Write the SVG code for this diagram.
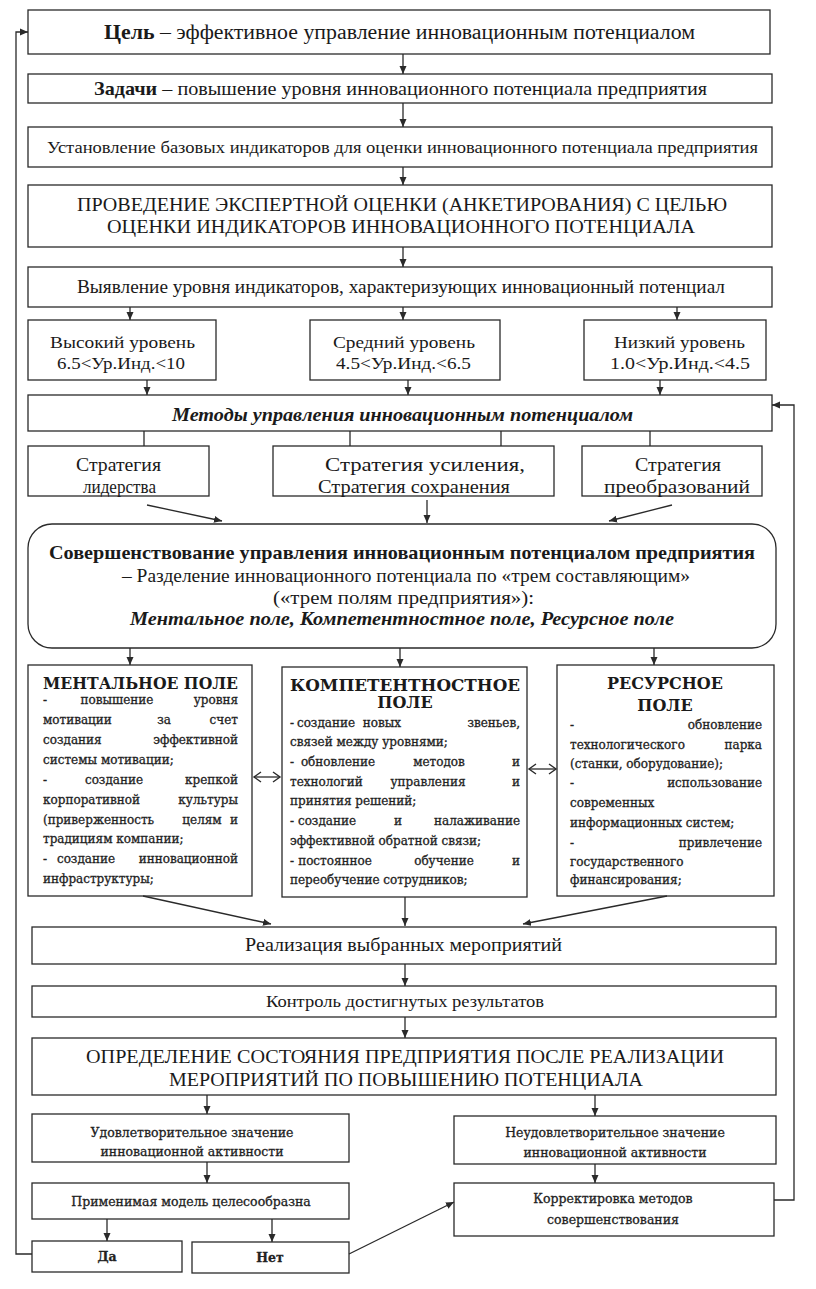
<svg xmlns="http://www.w3.org/2000/svg" width="816" height="1289" viewBox="0 0 816 1289">
<style>
.b{fill:#fff;stroke:#2a2a2a;stroke-width:1.3}
.t{font-family:"Liberation Serif","Times New Roman",serif;fill:#1a1a1a}
.d{font-family:"DejaVu Serif",serif;font-size:12px;fill:#222;stroke:#222;stroke-width:0.3}
.e{font-family:"DejaVu Serif",serif;font-size:12.5px;fill:#222;stroke:#222;stroke-width:0.3}
.h{font-family:"DejaVu Serif",serif;font-size:16px;font-weight:bold;fill:#1a1a1a}
.m{text-anchor:middle}
.r{text-anchor:end}
.c line,.c polyline{stroke:#2a2a2a;stroke-width:1.3;fill:none}
</style>
<defs>
<marker id="a" markerUnits="userSpaceOnUse" markerWidth="8" markerHeight="8" refX="8" refY="4" orient="auto"><path d="M0,0.5 L8,4 L0,7.5 z" fill="#2a2a2a"/></marker>
<marker id="o" markerUnits="userSpaceOnUse" markerWidth="10" markerHeight="12" refX="8" refY="6" orient="auto-start-reverse"><path d="M1,1 L8,6 L1,11" fill="none" stroke="#2a2a2a" stroke-width="1.4"/></marker>
</defs>
<rect width="816" height="1289" fill="#fff"/>

<g id="goal"><rect class="b" x="28" y="10" width="742" height="44"/>
<text class="t" x="104" y="39" font-size="20" textLength="591" lengthAdjust="spacingAndGlyphs"><tspan font-weight="bold">Цель</tspan> – эффективное управление инновационным потенциалом</text></g>

<g id="tasks"><rect class="b" x="28" y="74" width="744" height="29"/>
<text class="t" x="94" y="95" font-size="19" textLength="613" lengthAdjust="spacingAndGlyphs"><tspan font-weight="bold">Задачи</tspan> – повышение уровня инновационного потенциала предприятия</text></g>

<g id="indicators"><rect class="b" x="28" y="127" width="744" height="40"/>
<text class="t" x="47" y="153" font-size="17" textLength="711" lengthAdjust="spacingAndGlyphs">Установление базовых индикаторов для оценки инновационного потенциала предприятия</text></g>

<g id="expert"><rect class="b" x="28" y="185" width="744" height="62"/>
<text class="t" x="77" y="211" font-size="19" textLength="650" lengthAdjust="spacingAndGlyphs">ПРОВЕДЕНИЕ ЭКСПЕРТНОЙ ОЦЕНКИ (АНКЕТИРОВАНИЯ) С ЦЕЛЬЮ</text>
<text class="t" x="107" y="233" font-size="19" textLength="588" lengthAdjust="spacingAndGlyphs">ОЦЕНКИ ИНДИКАТОРОВ ИННОВАЦИОННОГО ПОТЕНЦИАЛА</text></g>

<g id="reveal"><rect class="b" x="28" y="267" width="744" height="40"/>
<text class="t" x="77" y="293" font-size="18" textLength="648" lengthAdjust="spacingAndGlyphs">Выявление уровня индикаторов, характеризующих инновационный потенциал</text></g>

<g id="high"><rect class="b" x="28" y="320" width="188" height="60"/>
<text class="t" x="50" y="348" font-size="17" textLength="145" lengthAdjust="spacingAndGlyphs">Высокий уровень</text>
<text class="t" x="57" y="369" font-size="17" textLength="128" lengthAdjust="spacingAndGlyphs">6.5&lt;Ур.Инд.&lt;10</text></g>

<g id="mid"><rect class="b" x="310" y="320" width="190" height="60"/>
<text class="t" x="333" y="348" font-size="17" textLength="142" lengthAdjust="spacingAndGlyphs">Средний уровень</text>
<text class="t" x="336" y="369" font-size="17" textLength="135" lengthAdjust="spacingAndGlyphs">4.5&lt;Ур.Инд.&lt;6.5</text></g>

<g id="low"><rect class="b" x="584" y="320" width="182" height="60"/>
<text class="t" x="614" y="348" font-size="17" textLength="131" lengthAdjust="spacingAndGlyphs">Низкий уровень</text>
<text class="t" x="610" y="369" font-size="17" textLength="140" lengthAdjust="spacingAndGlyphs">1.0&lt;Ур.Инд.&lt;4.5</text></g>

<g id="methods"><rect class="b" x="28" y="395" width="744" height="36"/>
<text class="t" x="172" y="421" font-size="18" font-weight="bold" font-style="italic" textLength="461" lengthAdjust="spacingAndGlyphs">Методы управления инновационным потенциалом</text></g>

<g id="s1"><rect class="b" x="28" y="446" width="181" height="50"/>
<text class="t" x="76" y="471" font-size="18" textLength="85" lengthAdjust="spacingAndGlyphs">Стратегия</text>
<text class="t" x="83" y="493" font-size="18" textLength="73" lengthAdjust="spacingAndGlyphs">лидерства</text></g>

<g id="s2"><rect class="b" x="273" y="446" width="281" height="50"/>
<text class="t" x="325" y="471" font-size="18" textLength="200" lengthAdjust="spacingAndGlyphs">Стратегия усиления,</text>
<text class="t" x="318" y="493" font-size="18" textLength="192" lengthAdjust="spacingAndGlyphs">Стратегия сохранения</text></g>

<g id="s3"><rect class="b" x="582" y="446" width="180" height="50"/>
<text class="t" x="635" y="471" font-size="18" textLength="86" lengthAdjust="spacingAndGlyphs">Стратегия</text>
<text class="t" x="604" y="493" font-size="18" textLength="146" lengthAdjust="spacingAndGlyphs">преобразований</text></g>

<g id="improve"><rect class="b" x="28" y="524" width="748" height="124" rx="24" ry="24"/>
<text class="t" x="49" y="559" font-size="19" font-weight="bold" textLength="706" lengthAdjust="spacingAndGlyphs">Совершенствование управления инновационным потенциалом предприятия</text>
<text class="t" x="122" y="582" font-size="18" textLength="568" lengthAdjust="spacingAndGlyphs">– Разделение инновационного потенциала по «трем составляющим»</text>
<text class="t" x="273" y="604" font-size="18" textLength="261" lengthAdjust="spacingAndGlyphs">(«трем полям предприятия»):</text>
<text class="t" x="130" y="625" font-size="19" font-weight="bold" font-style="italic" textLength="544" lengthAdjust="spacingAndGlyphs">Ментальное поле, Компетентностное поле, Ресурсное поле</text></g>

<g id="mental"><rect class="b" x="28" y="665" width="224" height="231"/>
<text class="h" x="43" y="689" textLength="195" lengthAdjust="spacingAndGlyphs">МЕНТАЛЬНОЕ ПОЛЕ</text>
<text class="d" x="43" y="704">-</text><text class="d m" x="117" y="704">повышение</text><text class="d r" x="238" y="704">уровня</text>
<text class="d" x="43" y="724">мотивации</text><text class="d m" x="164" y="724">за</text><text class="d r" x="238" y="724">счет</text>
<text class="d" x="43" y="744">создания</text><text class="d r" x="238" y="744">эффективной</text>
<text class="d" x="43" y="764">системы мотивации;</text>
<text class="d" x="43" y="784">-</text><text class="d m" x="114" y="784">создание</text><text class="d r" x="238" y="784">крепкой</text>
<text class="d" x="43" y="804">корпоративной</text><text class="d r" x="238" y="804">культуры</text>
<text class="d" x="43" y="824">(приверженность</text><text class="d m" x="202" y="824">целям</text><text class="d r" x="238" y="824">и</text>
<text class="d" x="43" y="843">традициям компании;</text>
<text class="d" x="43" y="863">-</text><text class="d m" x="86" y="863">создание</text><text class="d r" x="238" y="863">инновационной</text>
<text class="d" x="43" y="883">инфраструктуры;</text></g>

<g id="competence"><rect class="b" x="282" y="667" width="245" height="230"/>
<text class="h" x="290" y="691" textLength="230" lengthAdjust="spacingAndGlyphs">КОМПЕТЕНТНОСТНОЕ</text>
<text class="h m" x="405" y="708">ПОЛЕ</text>
<text class="d" x="290" y="727">-</text><text class="d m" x="326" y="727">создание</text><text class="d m" x="382" y="727">новых</text><text class="d r" x="520" y="727">звеньев,</text>
<text class="d" x="290" y="746">связей между уровнями;</text>
<text class="d" x="290" y="766">-</text><text class="d m" x="338" y="766">обновление</text><text class="d m" x="439" y="766">методов</text><text class="d r" x="520" y="766">и</text>
<text class="d" x="290" y="786">технологий</text><text class="d m" x="428" y="786">управления</text><text class="d r" x="520" y="786">и</text>
<text class="d" x="290" y="805">принятия решений;</text>
<text class="d" x="290" y="825">-</text><text class="d m" x="327" y="825">создание</text><text class="d m" x="398" y="825">и</text><text class="d r" x="520" y="825">налаживание</text>
<text class="d" x="290" y="845">эффективной обратной связи;</text>
<text class="d" x="290" y="865">-</text><text class="d m" x="335" y="865">постоянное</text><text class="d m" x="444" y="865">обучение</text><text class="d r" x="520" y="865">и</text>
<text class="d" x="290" y="884">переобучение сотрудников;</text></g>

<g id="resource"><rect class="b" x="557" y="665" width="217" height="231"/>
<text class="h m" x="665" y="689">РЕСУРСНОЕ</text>
<text class="h m" x="665" y="711">ПОЛЕ</text>
<text class="d" x="570" y="729">-</text><text class="d r" x="762" y="729">обновление</text>
<text class="d" x="570" y="749">технологического</text><text class="d r" x="762" y="749">парка</text>
<text class="d" x="570" y="768">(станки, оборудование);</text>
<text class="d" x="570" y="787">-</text><text class="d r" x="762" y="787">использование</text>
<text class="d" x="570" y="807">современных</text>
<text class="d" x="570" y="827">информационных систем;</text>
<text class="d" x="570" y="847">-</text><text class="d r" x="762" y="847">привлечение</text>
<text class="d" x="570" y="866">государственного</text>
<text class="d" x="570" y="884">финансирования;</text></g>

<g id="realize"><rect class="b" x="32" y="927" width="744" height="37"/>
<text class="t" x="245" y="951" font-size="18" textLength="317" lengthAdjust="spacingAndGlyphs">Реализация выбранных мероприятий</text></g>

<g id="control"><rect class="b" x="32" y="986" width="744" height="31"/>
<text class="t" x="266" y="1007" font-size="16" textLength="278" lengthAdjust="spacingAndGlyphs">Контроль достигнутых результатов</text></g>

<g id="state"><rect class="b" x="32" y="1038" width="744" height="57"/>
<text class="t" x="86" y="1063" font-size="19" textLength="638" lengthAdjust="spacingAndGlyphs">ОПРЕДЕЛЕНИЕ СОСТОЯНИЯ ПРЕДПРИЯТИЯ ПОСЛЕ РЕАЛИЗАЦИИ</text>
<text class="t" x="169" y="1086" font-size="19" textLength="474" lengthAdjust="spacingAndGlyphs">МЕРОПРИЯТИЙ ПО ПОВЫШЕНИЮ ПОТЕНЦИАЛА</text></g>

<g id="good"><rect class="b" x="32" y="1114" width="317" height="48"/>
<text class="e m" x="192" y="1137">Удовлетворительное значение</text>
<text class="e m" x="192" y="1156">инновационной активности</text></g>

<g id="model"><rect class="b" x="32" y="1183" width="317" height="36"/>
<text class="e m" x="191" y="1206">Применимая модель целесообразна</text></g>

<g id="yes"><rect class="b" x="32" y="1241" width="150" height="31"/>
<text class="e m" x="107" y="1261" font-weight="bold">Да</text></g>

<g id="no"><rect class="b" x="192" y="1242" width="157" height="31"/>
<text class="e m" x="270" y="1262" font-weight="bold">Нет</text></g>

<g id="bad"><rect class="b" x="454" y="1116" width="322" height="48"/>
<text class="e m" x="615" y="1137">Неудовлетворительное значение</text>
<text class="e m" x="615" y="1157">инновационной активности</text></g>

<g id="correct"><rect class="b" x="454" y="1183" width="320" height="53"/>
<text class="e m" x="613" y="1203">Корректировка методов</text>
<text class="e m" x="613" y="1224">совершенствования</text></g>

<g id="connectors" class="c">
<line x1="403" y1="54" x2="403" y2="74" marker-end="url(#a)"/>
<line x1="403" y1="103" x2="403" y2="127" marker-end="url(#a)"/>
<line x1="403" y1="167" x2="403" y2="185" marker-end="url(#a)"/>
<line x1="403" y1="247" x2="403" y2="267" marker-end="url(#a)"/>
<line x1="130" y1="307" x2="130" y2="320" marker-end="url(#a)"/>
<line x1="403" y1="307" x2="403" y2="320" marker-end="url(#a)"/>
<line x1="677" y1="307" x2="677" y2="320" marker-end="url(#a)"/>
<line x1="147" y1="380" x2="147" y2="395" marker-end="url(#a)"/>
<line x1="408" y1="380" x2="408" y2="395" marker-end="url(#a)"/>
<line x1="660" y1="380" x2="660" y2="395" marker-end="url(#a)"/>
<line x1="144" y1="431" x2="144" y2="446"/>
<line x1="350" y1="431" x2="350" y2="446"/>
<line x1="501" y1="431" x2="501" y2="446"/>
<line x1="650" y1="431" x2="650" y2="446"/>
<line x1="147" y1="505" x2="222" y2="521" marker-end="url(#a)"/>
<line x1="427" y1="500" x2="427" y2="523" marker-end="url(#a)"/>
<line x1="672" y1="505" x2="609" y2="521" marker-end="url(#a)"/>
<line x1="130" y1="648" x2="130" y2="665" marker-end="url(#a)"/>
<line x1="400" y1="648" x2="400" y2="667" marker-end="url(#a)"/>
<line x1="654" y1="648" x2="654" y2="665" marker-end="url(#a)"/>
<line x1="254" y1="777" x2="280" y2="777" marker-start="url(#o)" marker-end="url(#o)"/>
<line x1="529" y1="769" x2="556" y2="769" marker-start="url(#o)" marker-end="url(#o)"/>
<line x1="143" y1="896" x2="271" y2="924" marker-end="url(#a)"/>
<line x1="405" y1="897" x2="405" y2="926" marker-end="url(#a)"/>
<line x1="667" y1="896" x2="523" y2="924" marker-end="url(#a)"/>
<line x1="405" y1="964" x2="405" y2="986" marker-end="url(#a)"/>
<line x1="405" y1="1017" x2="405" y2="1038" marker-end="url(#a)"/>
<line x1="207" y1="1095" x2="207" y2="1114" marker-end="url(#a)"/>
<line x1="595" y1="1095" x2="595" y2="1116" marker-end="url(#a)"/>
<line x1="207" y1="1162" x2="207" y2="1183" marker-end="url(#a)"/>
<line x1="595" y1="1164" x2="595" y2="1183" marker-end="url(#a)"/>
<line x1="107" y1="1219" x2="107" y2="1241" marker-end="url(#a)"/>
<line x1="272" y1="1219" x2="272" y2="1242" marker-end="url(#a)"/>
<line x1="349" y1="1254" x2="454" y2="1202" marker-end="url(#a)"/>
<polyline points="32,1254 16,1254 16,32 28,32" marker-end="url(#a)"/>
<polyline points="774,1200 794,1200 794,405 772,405" marker-end="url(#a)"/>
</g>
</svg>
